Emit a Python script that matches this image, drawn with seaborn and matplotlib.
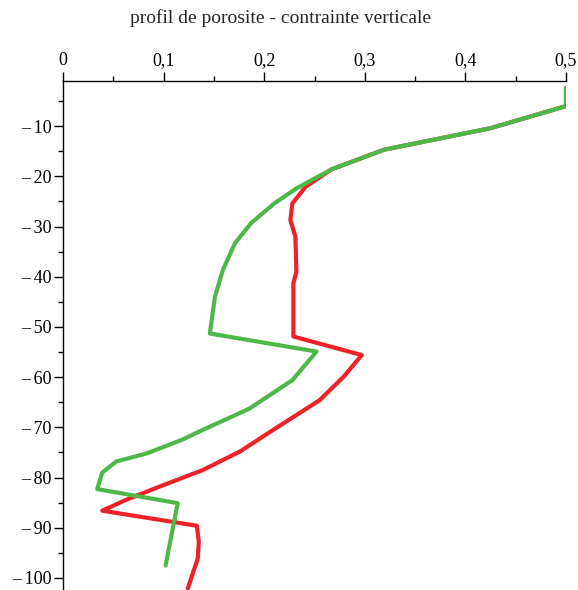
import numpy as np
import pandas as pd
import seaborn as sb
from matplotlib import pyplot as plt
from matplotlib.ticker import MultipleLocator, FuncFormatter

sb.set_style("white")
plt.rcParams['font.family'] = ['Liberation Serif', 'DejaVu Serif']
plt.rcParams['axes.unicode_minus'] = False

# porosite (x) vs profondeur (y)
red_x = [0.5, 0.5, 0.425, 0.319, 0.267, 0.241, 0.228, 0.226, 0.231, 0.232, 0.229,
         0.229, 0.297, 0.279, 0.255, 0.209, 0.176, 0.139, 0.096, 0.062, 0.039,
         0.133, 0.135, 0.134, 0.124]
red_y = [-2.4, -6.0, -10.4, -14.7, -18.6, -22.1, -25.4, -28.7, -32.0, -39.0, -41.3,
         -51.9, -55.6, -59.9, -64.6, -70.5, -74.8, -78.5, -81.8, -84.5, -86.6,
         -89.6, -92.8, -96.1, -102.1]

green_x = [0.5, 0.5, 0.425, 0.319, 0.267, 0.232, 0.210, 0.187, 0.171, 0.159, 0.151,
           0.146, 0.252, 0.228, 0.185, 0.139, 0.118, 0.083, 0.053, 0.039, 0.034,
           0.114, 0.102]
green_y = [-2.4, -6.0, -10.4, -14.7, -18.6, -22.4, -25.4, -29.3, -33.3, -38.6, -44.0,
           -51.3, -54.9, -60.6, -66.3, -70.5, -72.5, -75.2, -76.8, -79.0, -82.3,
           -85.1, -97.5]

dfR = pd.DataFrame({'x': red_x, 'y': red_y})
dfG = pd.DataFrame({'x': green_x, 'y': green_y})

fig = plt.figure(figsize=(5.78, 5.90), dpi=100)
ax = fig.add_axes([63/578, 0.0, (566-63)/578, 1 - 81/590])

sb.lineplot(data=dfR, x='x', y='y', sort=False, estimator=None,
            color='#EE2128', lw=3.0, ax=ax)
sb.lineplot(data=dfG, x='x', y='y', sort=False, estimator=None,
            color='#4DB848', lw=3.0, ax=ax)

ax.set_xlim(0, 0.5)
ax.set_ylim(-102.4, -1.0)
ax.set_xlabel('')
ax.set_ylabel('')

for s in ['right', 'bottom']:
    ax.spines[s].set_visible(False)
for s in ['left', 'top']:
    ax.spines[s].set_color('black')
    ax.spines[s].set_linewidth(1.0)

ax.xaxis.tick_top()
ax.xaxis.set_major_locator(MultipleLocator(0.1))
ax.xaxis.set_minor_locator(MultipleLocator(0.05))
ax.yaxis.set_major_locator(MultipleLocator(10))
ax.yaxis.set_minor_locator(MultipleLocator(5))
ax.xaxis.set_major_formatter(FuncFormatter(
    lambda v, p: '0' if abs(v) < 1e-9 else ('%.1f' % v).replace('.', ',')))
ax.yaxis.set_major_formatter(FuncFormatter(
    lambda v, p: '\u2013\u2009%d' % abs(round(v))))
ax.tick_params(axis='both', which='major', direction='out', length=6.5, width=1,
               colors='black', labelsize=13)
ax.tick_params(axis='x', which='major', pad=2)
ax.tick_params(axis='y', which='major', pad=1.5)
ax.tick_params(axis='both', which='minor', direction='out', length=3.5, width=1,
               colors='black')
ax.tick_params(axis='x', which='both', top=True, bottom=False)
ax.tick_params(axis='y', which='both', left=True, right=False)

fig.text(280/578, 1 - 18/590, 'profil de porosite - contrainte verticale',
         ha='center', va='center', fontsize=14)

fig.savefig('out.png', dpi=100)
